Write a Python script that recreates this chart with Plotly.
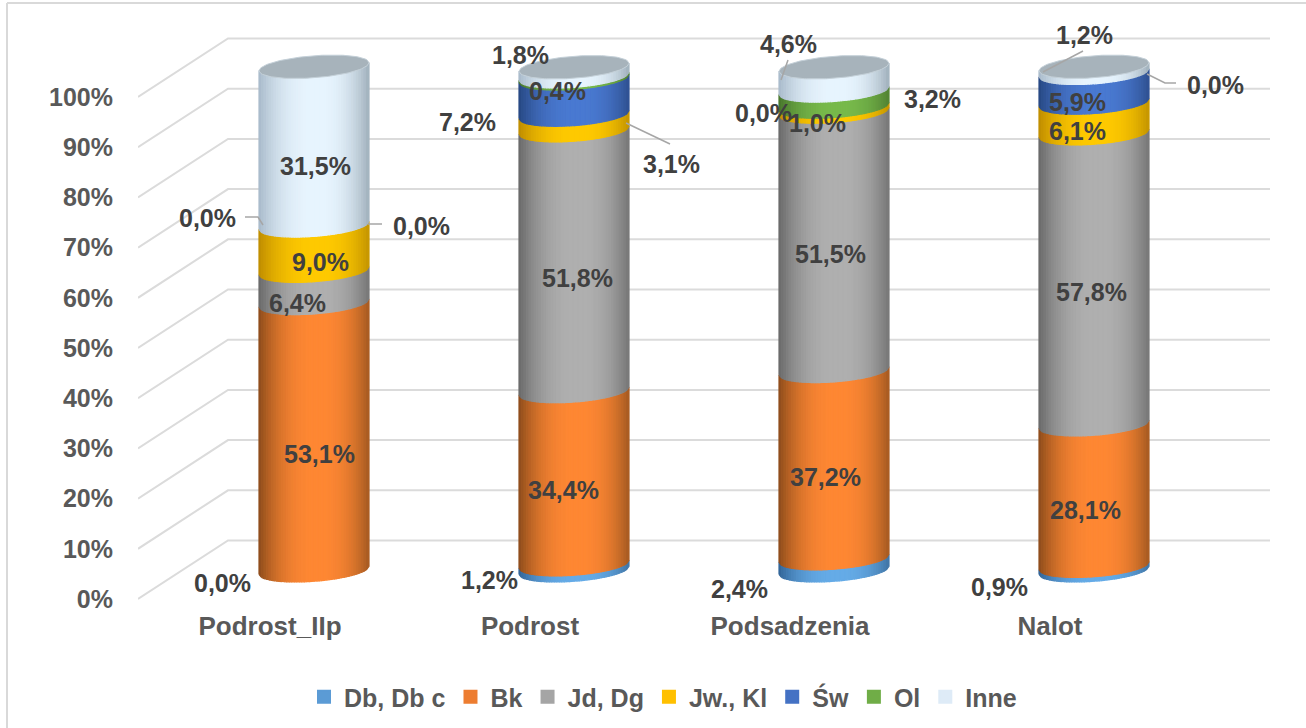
import math
import plotly.graph_objects as go

categories = ["Podrost_IIp", "Podrost", "Podsadzenia", "Nalot"]
series_names = ["Db, Db c", "Bk", "Jd, Dg", "Jw., Kl", "Św", "Ol", "Inne"]
db = [0.0, 1.2, 2.4, 0.9]
bk = [53.1, 34.4, 37.2, 28.1]
jd = [6.4, 51.8, 51.5, 57.8]
jw = [9.0, 3.1, 1.0, 6.1]
sw = [0.0, 7.2, 0.0, 5.9]
ol = [0.0, 0.4, 3.2, 0.0]
inne = [31.5, 1.8, 4.6, 1.2]
y_ticks = list(range(0, 101, 10))

series_values = [db, bk, jd, jw, sw, ol, inne]

# ---- styling / layout ----
W, H = 1306, 728
PX_L, PX_R, PX_T, PX_B = 138, 1270, 34, 604
PX_Y0 = 599.0      # pixel of value 0 on the front plane
PX_PER_V = 5.02
PX_X0 = 270.0      # pixel of first category on the front plane
PX_PER_CAT = 260.0
DEPTH_X, DEPTH_Y = 90.0, 58.5     # back wall offset
CYL_X, CYL_Y = 44.0, 29.5         # cylinder plane offset
CYL_SCALE = 1.003
R_PX, E_PX, TILT_PX = 55.0, 11.0, 4.0
N_STRIPS = 44

legend_colors = ["#5B9BD5", "#ED7D31", "#A5A5A5", "#FFC000", "#4472C4", "#70AD47", "#DEEBF7"]
peak_colors = [(102, 172, 232), (255, 136, 52), (176, 176, 176), (255, 202, 0),
               (74, 122, 210), (120, 186, 76), (232, 245, 255)]
left_colors = [(50, 100, 150), (140, 76, 28), (105, 105, 105), (190, 140, 0),
               (40, 72, 130), (72, 118, 45), (168, 186, 202)]
right_colors = [(48, 92, 135), (125, 70, 26), (92, 92, 92), (170, 125, 0),
                (36, 62, 115), (64, 105, 40), (128, 146, 158)]
LID = "#A7B3BB"
LID_RIM = "#C4D0D8"
GRID = "#DBDBDB"
TEXT_AXIS = "#595959"
TEXT_LABEL = "#404040"
FONT = "Liberation Sans"

def vx(px):
    return (px - PX_X0) / PX_PER_CAT

def vy(py):
    return (PX_Y0 - py) / PX_PER_V

dx_cyl = CYL_X / PX_PER_CAT
dv_cyl = CYL_Y / PX_PER_V
dx_back = DEPTH_X / PX_PER_CAT
dv_back = DEPTH_Y / PX_PER_V
r = R_PX / PX_PER_CAT
e = E_PX / PX_PER_V
tilt = TILT_PX / PX_PER_V

def cyl_y(v):
    return 50 + (v - 50) * CYL_SCALE + dv_cyl

def front(u):
    # value-space drop of the front rim of the tilted ellipse
    return u * tilt - e * math.sqrt(max(0.0, 1 - u * u))

def back(u):
    return u * tilt + e * math.sqrt(max(0.0, 1 - u * u))

def shade(s, u):
    t = (u - 0.08) / 1.08 if u >= 0.08 else (u - 0.08) / -1.08
    w = 1 - abs(t) ** 2.4
    edge = left_colors[s] if u < 0.08 else right_colors[s]
    c = [edge[k] + (peak_colors[s][k] - edge[k]) * w for k in range(3)]
    return "rgb(%d,%d,%d)" % tuple(c)

fig = go.Figure()

# gridlines: front plane -> back wall -> across
gx, gy = [], []
for v in y_ticks:
    gx += [vx(PX_L), vx(PX_L) + dx_back, vx(PX_R), None]
    gy += [v, v + dv_back, v + dv_back, None]
fig.add_trace(go.Scatter(x=gx, y=gy, mode="lines", line=dict(color=GRID, width=2),
                         hoverinfo="skip", showlegend=False))

# cylinders: stack segments made of shaded vertical strips
for s in range(len(series_names)):
    for k in range(N_STRIPS):
        u0 = -1 + 2 * k / N_STRIPS
        u1 = -1 + 2 * (k + 1) / N_STRIPS
        xs, ys = [], []
        for c in range(len(categories)):
            lo = sum(series_values[j][c] for j in range(s))
            hi = lo + series_values[s][c]
            if series_values[s][c] <= 0:
                continue
            cx = c + dx_cyl
            xa, xb = cx + u0 * r, cx + u1 * r
            ya, yb = front(u0), front(u1)
            xs += [xa, xb, xb, xa, xa, None]
            ys += [cyl_y(lo) + ya, cyl_y(lo) + yb, cyl_y(hi) + yb, cyl_y(hi) + ya, cyl_y(lo) + ya, None]
        col = shade(s, (u0 + u1) / 2)
        fig.add_trace(go.Scatter(x=xs, y=ys, mode="lines", fill="toself", fillcolor=col,
                                 line=dict(color=col, width=1.2), hoverinfo="skip",
                                 showlegend=False))

# lids
lx, ly = [], []
for c in range(len(categories)):
    top = cyl_y(sum(series_values[j][c] for j in range(len(series_names))))
    cx = c + dx_cyl
    us = [-1 + 2 * i / 60 for i in range(61)]
    lx += [cx + u * r for u in us] + [cx + u * r for u in reversed(us)] + [None]
    ly += [top + front(u) for u in us] + [top + back(u) for u in reversed(us)] + [None]
fig.add_trace(go.Scatter(x=lx, y=ly, mode="lines", fill="toself", fillcolor=LID,
                         line=dict(color=LID_RIM, width=1), hoverinfo="skip", showlegend=False))

# legend entries
for name, col in zip(series_names, legend_colors):
    fig.add_trace(go.Bar(x=[None], y=[None], name=name,
                         marker=dict(color=col, line=dict(color=col, width=2)), hoverinfo="skip"))

# leader lines (pixel paths)
leaders = [
    [(245, 217), (258, 217), (263, 225)],
    [(368, 224), (382, 224)],
    [(626, 123), (670, 144)],
    [(788, 60), (781, 80)],
    [(1147, 74), (1165, 83), (1176, 83)],
    [(1083, 51), (1043, 72)],
]
lead_x, lead_y = [], []
for path in leaders:
    for px, py in path:
        lead_x.append(vx(px))
        lead_y.append(vy(py))
    lead_x.append(None)
    lead_y.append(None)
fig.add_trace(go.Scatter(x=lead_x, y=lead_y, mode="lines", line=dict(color="#A6A6A6", width=1.5),
                         hoverinfo="skip", showlegend=False))

# data labels: target pixel centre per (category, series)
label_px = [
    [(222, 583), (319, 454), (297, 303), (320, 262), (421, 226), (207, 218), (315, 166)],
    [(489, 580), (563, 490), (577, 278), (671, 164), (467, 122), (557, 91), (520, 55)],
    [(739, 589), (825, 477), (830, 254), (817, 123), (763, 113), (932, 99), (788, 44)],
    [(999, 587), (1085, 510), (1091, 292), (1077, 131), (1077, 102), (1215, 85), (1084, 35)],
]
annotations = []
for c in range(len(categories)):
    lo = 0.0
    for s in range(len(series_names)):
        v = series_values[s][c]
        ax_x, ax_y = c + dx_cyl, cyl_y(lo + v / 2)
        tx, ty = label_px[c][s]
        annotations.append(dict(
            x=ax_x, y=ax_y, xref="x", yref="y", showarrow=False,
            text=f"{v:.1f}".replace(".", ",") + "%",
            xanchor="center", yanchor="middle",
            xshift=tx - (PX_X0 + ax_x * PX_PER_CAT),
            yshift=(PX_Y0 - ax_y * PX_PER_V) - ty,
            font=dict(family=FONT, size=25, color=TEXT_LABEL, weight="bold"),
        ))
        lo += v

def paper_x(px):
    return (px - PX_L) / (PX_R - PX_L)

def paper_y(py):
    return (PX_B - py) / (PX_B - PX_T)

frame = [
    dict(type="line", xref="paper", yref="paper", x0=paper_x(7), x1=paper_x(7),
         y0=paper_y(3), y1=paper_y(728), line=dict(color="#D9D9D9", width=2)),
    dict(type="line", xref="paper", yref="paper", x0=paper_x(7), x1=paper_x(1306),
         y0=paper_y(3), y1=paper_y(3), line=dict(color="#D9D9D9", width=2)),
]

fig.update_layout(
    width=W, height=H, autosize=False,
    margin=dict(l=PX_L, r=W - PX_R, t=PX_T, b=H - PX_B, pad=0, autoexpand=False),
    paper_bgcolor="white", plot_bgcolor="white",
    font=dict(family=FONT, size=25, color=TEXT_AXIS, weight="bold"),
    xaxis=dict(range=[vx(PX_L), vx(PX_R)], tickmode="array", tickvals=list(range(len(categories))),
               ticktext=categories, showgrid=False, zeroline=False, showline=False, ticks="",
               ticklabelstandoff=4,
               tickfont=dict(family=FONT, size=26, color=TEXT_AXIS, weight="bold")),
    yaxis=dict(range=[vy(PX_B), vy(PX_T)], tickmode="array", tickvals=y_ticks,
               ticktext=[f"{v}%" for v in y_ticks],
               showgrid=False, zeroline=False, showline=False, ticks="", ticklabelstandoff=24,
               tickfont=dict(family=FONT, size=25, color=TEXT_AXIS, weight="bold")),
    legend=dict(orientation="h", x=paper_x(663), xanchor="center", y=paper_y(697), yanchor="middle",
                font=dict(family=FONT, size=25, color=TEXT_AXIS, weight="bold"),
                bgcolor="rgba(0,0,0,0)", traceorder="normal", itemclick=False, itemdoubleclick=False),
    annotations=annotations,
    shapes=frame,
    showlegend=True,
)

fig.write_html("out.html", config={"displayModeBar": False},
               post_script="document.body.style.margin='0';")
